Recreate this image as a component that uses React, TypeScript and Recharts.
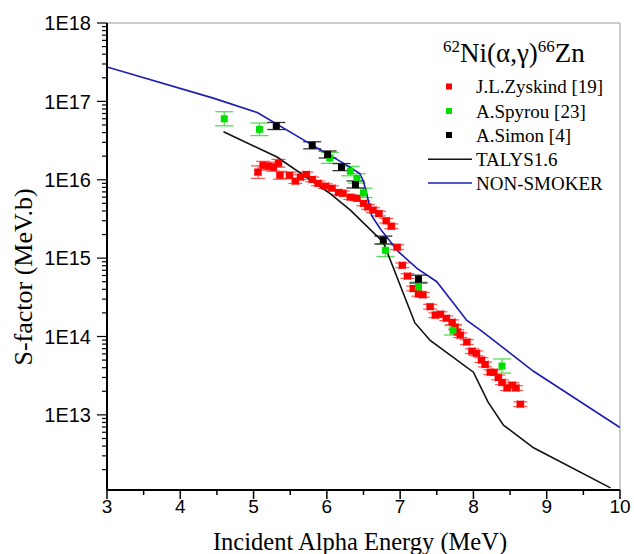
import React from 'react';
import { ComposedChart, Line, Scatter, XAxis, YAxis, ErrorBar, ReferenceLine } from 'recharts';

// ---- Data ----
// J.L.Zyskind [19]
const zyskindE = [5.06, 5.13, 5.20, 5.27, 5.34, 5.36, 5.49, 5.57, 5.64, 5.72, 5.80, 5.88, 5.98, 6.07, 6.16, 6.22, 6.32, 6.41, 6.50, 6.56, 6.63, 6.71, 6.81, 6.88, 6.96, 7.03, 7.10, 7.18, 7.25, 7.31, 7.41, 7.48, 7.55, 7.63, 7.71, 7.75, 7.78, 7.82, 7.91, 7.98, 8.04, 8.11, 8.16, 8.23, 8.28, 8.34, 8.39, 8.46, 8.53, 8.58, 8.64];
const zyskindS = [1.25e16, 1.53e16, 1.49e16, 1.44e16, 1.62e16, 1.14e16, 1.14e16, 9.6e15, 1.08e16, 1.17e16, 1.01e16, 9.0e15, 8.3e15, 7.8e15, 6.9e15, 6.7e15, 6.0e15, 5.8e15, 5.0e15, 4.5e15, 4.1e15, 3.7e15, 3.0e15, 2.55e15, 1.38e15, 8.1e14, 5.9e14, 4.1e14, 3.5e14, 3.4e14, 2.4e14, 1.87e14, 1.93e14, 1.71e14, 1.52e14, 1.32e14, 1.14e14, 1.04e14, 8.5e13, 6.5e13, 6.1e13, 5.0e13, 4.4e13, 3.5e13, 3.5e13, 3.0e13, 2.6e13, 2.2e13, 2.4e13, 2.2e13, 1.37e13];
// uncertainty in decades
const zyskindErrDec = [0.08, 0.05, 0.05, 0.05, 0.05, 0.05, 0.04, 0.03, 0.03, 0.03, 0.03, 0.03, 0.03, 0.03, 0.03, 0.03, 0.03, 0.03, 0.03, 0.03, 0.03, 0.03, 0.03, 0.03, 0.03, 0.03, 0.03, 0.03, 0.03, 0.03, 0.03, 0.03, 0.03, 0.03, 0.03, 0.03, 0.03, 0.03, 0.03, 0.03, 0.03, 0.03, 0.03, 0.03, 0.03, 0.03, 0.03, 0.03, 0.03, 0.03, 0.03];
const zyskindErrE = 0.045;

// A.Spyrou [23]
const spyrouE = [4.60, 5.08, 6.04, 6.32, 6.41, 6.50, 6.80, 7.25, 7.72, 8.39];
const spyrouS = [6.0e16, 4.4e16, 1.9e16, 1.29e16, 1.04e16, 6.8e15, 1.26e15, 4.3e14, 1.2e14, 4.2e13];
const spyrouErrDec = [0.09, 0.08, 0.07, 0.06, 0.06, 0.06, 0.08, 0.06, 0.06, 0.09];

// A.Simon [4]
const simonE = [5.31, 5.80, 6.01, 6.20, 6.39, 6.77, 7.25];
const simonS = [4.85e16, 2.75e16, 2.1e16, 1.45e16, 8.7e15, 1.7e15, 5.4e14];
const simonErrDec = [0.045, 0.045, 0.045, 0.045, 0.045, 0.05, 0.05];

// TALYS1.6
const talysE = [4.59, 5.32, 6.05, 6.32, 6.77, 7.20, 7.41, 8.00, 8.20, 8.41, 8.82, 9.87];
const talysS = [4.1e16, 1.95e16, 6.6e15, 4.1e15, 1.6e15, 1.5e14, 8.9e13, 3.5e13, 1.45e13, 7.4e12, 3.8e12, 1.17e12];

// NON-SMOKER
const nonSmokerE = [3.00, 4.45, 5.05, 5.64, 6.23, 6.45, 6.50, 6.55, 6.61, 6.73, 6.98, 7.23, 7.50, 7.91, 8.10, 8.82, 10.0];
const nonSmokerS = [2.75e17, 1.10e17, 7.2e16, 3.4e16, 1.62e16, 1.2e16, 9.5e15, 6.3e15, 3.5e15, 2.35e15, 1.2e15, 7.4e14, 5.0e14, 1.6e14, 1.2e14, 3.6e13, 6.9e12];

// Axes
const xMajorTicks = [3, 4, 5, 6, 7, 8, 9, 10];
const xMinorTicks = [3.5, 4.5, 5.5, 6.5, 7.5, 8.5, 9.5];
const yMajorTicks = [1e13, 1e14, 1e15, 1e16, 1e17, 1e18];
const yMinorMultipliers = [2, 3, 4, 5, 6, 7, 8, 9];
const yDomain: [number, number] = [1.1e12, 1e18];
const xDomain: [number, number] = [3, 10];

const legendItems = ['J.L.Zyskind [19]', 'A.Spyrou [23]', 'A.Simon [4]', 'TALYS1.6', 'NON-SMOKER'];

// ---- build series ----
const decErr = (s: number, d: number) => [s * (1 - Math.pow(10, -d)), s * (Math.pow(10, d) - 1)];
const zyskindData = zyskindE.map((x, i) => ({ x, y: zyskindS[i], ey: decErr(zyskindS[i], zyskindErrDec[i]), ex: zyskindErrE }));
const spyrouData = spyrouE.map((x, i) => ({ x, y: spyrouS[i], ey: decErr(spyrouS[i], spyrouErrDec[i]) }));
const simonData = simonE.map((x, i) => ({ x, y: simonS[i], ey: decErr(simonS[i], simonErrDec[i]) }));
const talysData = talysE.map((x, i) => ({ x, y: talysS[i] }));
const nonSmokerData = nonSmokerE.map((x, i) => ({ x, y: nonSmokerS[i] }));

const xTicks = [...xMajorTicks, ...xMinorTicks].sort((a, b) => a - b);
const yTicks: number[] = [];
for (const major of [1e12, ...yMajorTicks]) {
  yTicks.push(major);
  if (major < 1e18) for (const m of yMinorMultipliers) yTicks.push(m * major);
}
const yTicksIn = yTicks.filter((v) => v >= yDomain[0] && v <= yDomain[1]);

const SANS = '"Liberation Sans", Arial, sans-serif';
const SERIF = '"Liberation Serif", "Times New Roman", serif';

const XTick = (props: any) => {
  const { x, y, payload } = props;
  const v = payload.value;
  const major = xMajorTicks.includes(v);
  return (
    <g>
      <line x1={x} x2={x} y1={y} y2={y + (major ? 9 : 5)} stroke="#000" strokeWidth={1.5} />
      {major && (
        <text x={x} y={y + 23} textAnchor="middle" style={{ fontFamily: SANS, fontSize: 19 }} fill="#000">
          {v}
        </text>
      )}
    </g>
  );
};

const YTick = (props: any) => {
  const { x, y, payload } = props;
  const v = payload.value;
  const lg = Math.log10(v);
  const major = Math.abs(lg - Math.round(lg)) < 1e-6;
  return (
    <g>
      <line x1={x - (major ? 10 : 5)} x2={x} y1={y} y2={y} stroke="#000" strokeWidth={1.2} />
      {major && (
        <text x={x - 16} y={y} dy="0.36em" textAnchor="end" style={{ fontFamily: SANS, fontSize: 20 }} fill="#000">
          {`1E${Math.round(lg)}`}
        </text>
      )}
    </g>
  );
};

const square = (color: string, s: number) => (p: any) => (
  <rect x={p.cx - s / 2} y={p.cy - s / 2} width={s} height={s} fill={color} />
);

const legendRowsY = [86.7, 111, 135, 159.3, 183];

export default function App() {
  return (
    <div style={{ position: 'absolute', left: 0, top: 0, width: 634, height: 554, background: '#fff' }}>
      <ComposedChart width={634} height={554} margin={{ top: 23, right: 14, bottom: 0, left: 0 }}>
        <XAxis
          type="number"
          dataKey="x"
          domain={xDomain}
          ticks={xTicks}
          interval={0}
          allowDataOverflow
          tick={<XTick />}
          tickLine={false}
          tickSize={0}
          tickMargin={0}
          height={64}
          axisLine={{ stroke: '#000', strokeWidth: 2 }}
        />
        <YAxis
          type="number"
          dataKey="y"
          scale="log"
          domain={yDomain}
          ticks={yTicksIn}
          interval={0}
          allowDataOverflow
          tick={<YTick />}
          tickLine={false}
          tickSize={0}
          tickMargin={0}
          width={107}
          axisLine={{ stroke: '#000', strokeWidth: 2 }}
        />
        <ReferenceLine y={1e18} stroke="#999" strokeWidth={1} ifOverflow="visible" />
        <ReferenceLine x={10} stroke="#999" strokeWidth={1} ifOverflow="visible" />
        <Scatter data={zyskindData} shape={square('#ff0000', 7)} isAnimationActive={false}>
          <ErrorBar dataKey="ex" direction="x" width={4} stroke="#ff7070" strokeWidth={1.2} />
          <ErrorBar dataKey="ey" direction="y" width={7} stroke="#ff5050" strokeWidth={1.2} />
        </Scatter>
        <Scatter data={spyrouData} shape={square('#00e000', 7)} isAnimationActive={false}>
          <ErrorBar dataKey="ey" direction="y" width={9} stroke="#55dd55" strokeWidth={1.3} />
        </Scatter>
        <Scatter data={simonData} shape={square('#000000', 7)} isAnimationActive={false}>
          <ErrorBar dataKey="ey" direction="y" width={9} stroke="#333" strokeWidth={1.3} />
        </Scatter>
        <Line data={talysData} dataKey="y" type="linear" stroke="#111" strokeWidth={1.6} dot={false} isAnimationActive={false} />
        <Line data={nonSmokerData} dataKey="y" type="linear" stroke="#1c1cb0" strokeWidth={1.6} dot={false} isAnimationActive={false} />
      </ComposedChart>
      <svg width={634} height={554} style={{ position: 'absolute', left: 0, top: 0, pointerEvents: 'none' }}>
        <text x={443} y={62} style={{ fontFamily: SERIF, fontSize: 27 }} fill="#000">
          <tspan style={{ fontSize: 17 }} dy={-10}>62</tspan>
          <tspan dy={10}>Ni(α,γ)</tspan>
          <tspan style={{ fontSize: 17 }} dy={-10}>66</tspan>
          <tspan dy={10}>Zn</tspan>
        </text>
        <rect x={446} y={83.5} width={6} height={6} fill="#ff0000" />
        <rect x={446} y={108} width={6} height={6} fill="#00e000" />
        <rect x={446} y={132} width={6} height={6} fill="#000" />
        <line x1={428} x2={472} y1={159.3} y2={159.3} stroke="#111" strokeWidth={1.6} />
        <line x1={428} x2={472} y1={183} y2={183} stroke="#1c1cb0" strokeWidth={1.6} />
        {legendItems.map((t, i) => (
          <text key={t} x={476} y={legendRowsY[i] + 6.5} style={{ fontFamily: SERIF, fontSize: 19 }} fill="#000">
            {t}
          </text>
        ))}
        <text x={360} y={550} textAnchor="middle" style={{ fontFamily: SERIF, fontSize: 24.5 }} fill="#000">
          Incident Alpha Energy (MeV)
        </text>
        <text x={32} y={277} transform="rotate(-90 32 277)" textAnchor="middle" style={{ fontFamily: SERIF, fontSize: 26 }} fill="#000">
          S-factor (MeV.b)
        </text>
      </svg>
    </div>
  );
}
